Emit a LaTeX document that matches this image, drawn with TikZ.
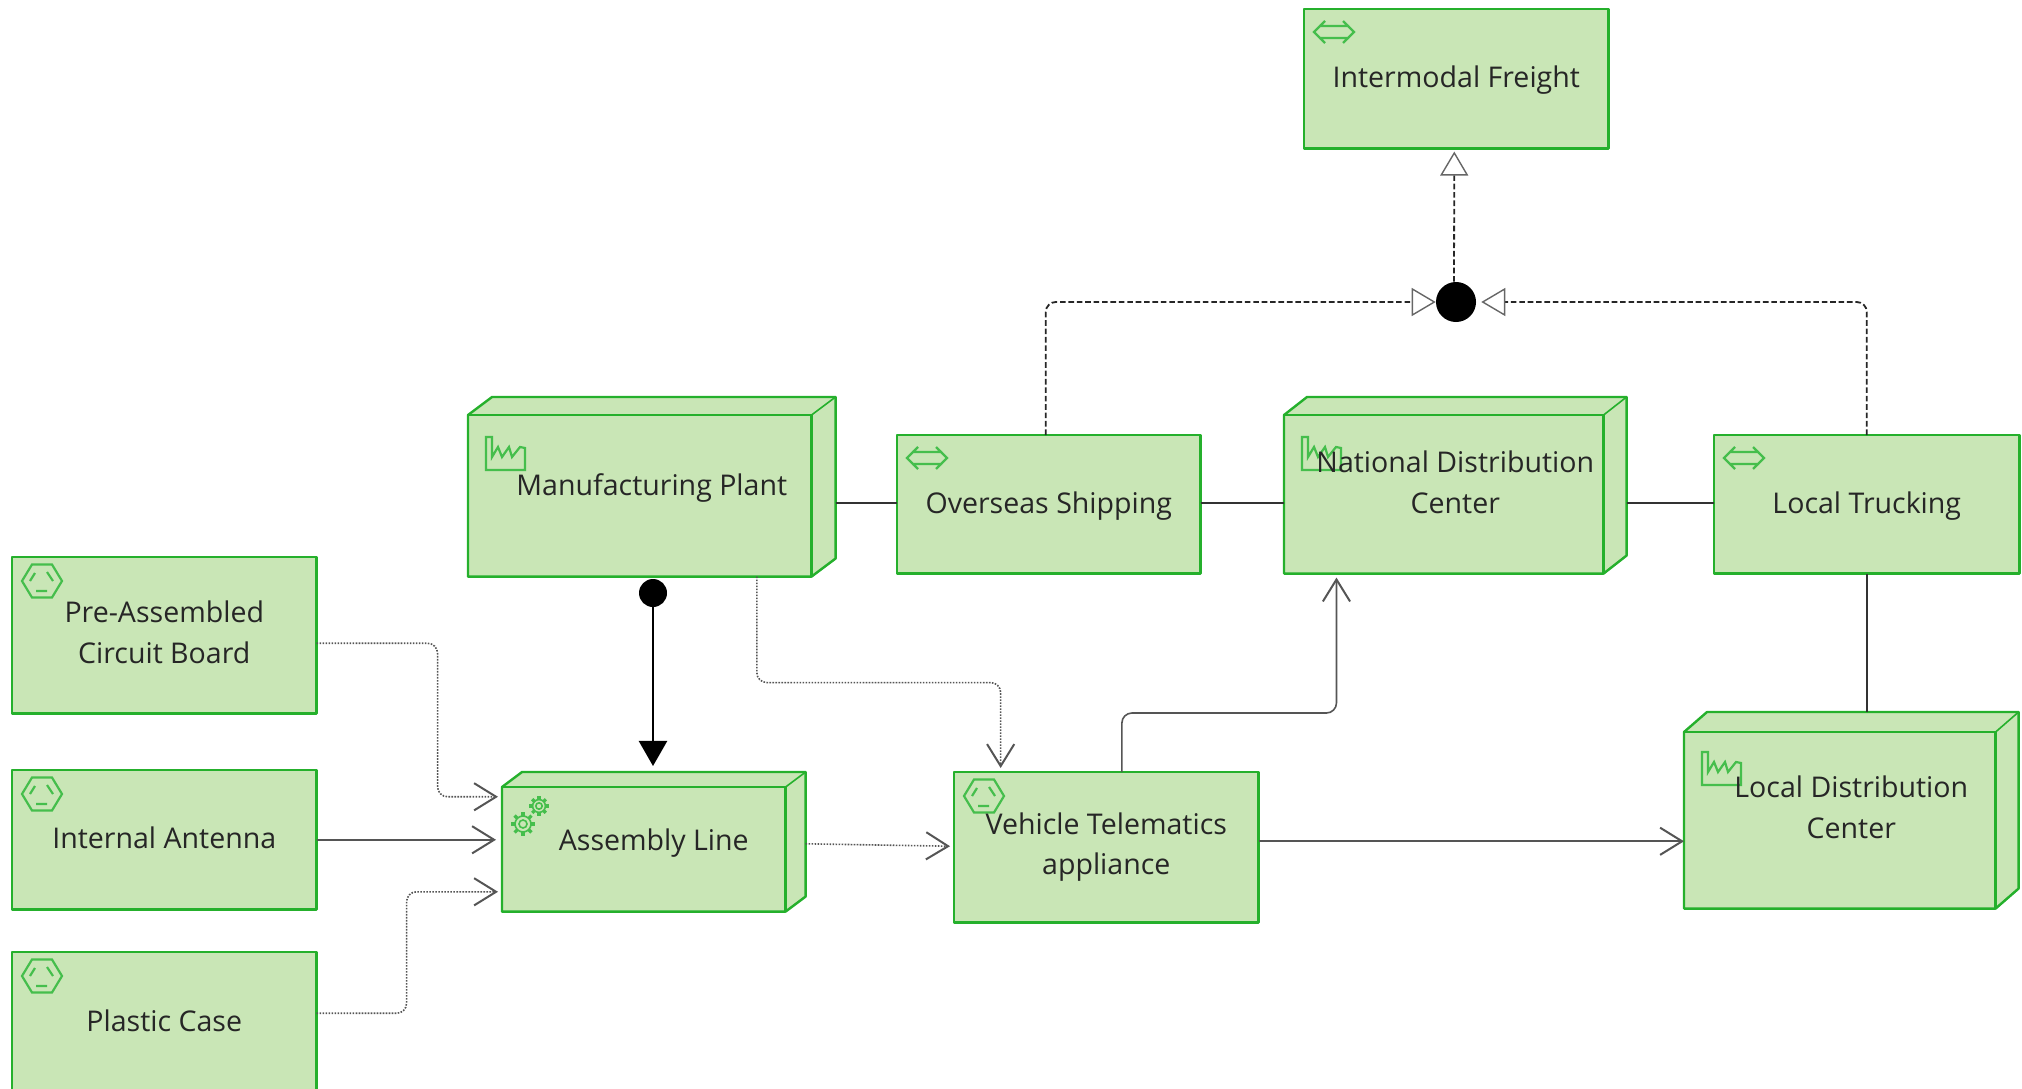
\documentclass[tikz,border=0pt]{standalone}
\usepackage{fontspec}
\setmainfont{Open Sans}
\usetikzlibrary{arrows.meta,backgrounds,calc}
\definecolor{boxline}{HTML}{25B02C}
\definecolor{boxfill}{HTML}{C9E6B6}
\definecolor{symline}{HTML}{45BE4C}
\definecolor{flowgrey}{HTML}{555555}
\newcommand{\textstrut}{\rule[-.16cm]{0pt}{.78cm}}
\begin{document}
\begin{tikzpicture}[x=.025cm,y=-.025cm]
            \tikzset{boxsize/.style 2 args={minimum width=#1*.025cm,minimum height=#2*.025cm},
            boxnode/.style={anchor=north west,inner sep=0pt,align=center,text=black!85,font=\fontsize{20.3}{28.8}\selectfont,execute at begin node=\textstrut,execute at end node=\textstrut},
            boxface/.style={draw=boxline,fill=boxfill,line width=.06cm,line join=round},
            symbol/.style={draw=symline,line width=.055cm},
            assocline/.style={draw=black!80,line width=.05cm},
            flowline/.style={draw=flowgrey,line width=.04cm,rounded corners=.25cm,-{Straight Barb[length=.55cm,width=.68cm,line width=.05cm]}},
            flowdot/.style={flowline,densely dotted},
            realline/.style={draw=black!85,line width=.045cm,dash pattern=on .14cm off .07cm,rounded corners=.25cm,-{Triangle[open,length=.6cm,width=.7cm,line width=.035cm,color=black!60]}},
            netsym/.pic={\draw[symbol] (-9,-11) -- (-20,0) -- (-9,11) (9,-11) -- (20,0) -- (9,11) (-15,-6) -- (15,-6) (-15,6) -- (15,6);},
            plantsym/.pic={\draw[symbol] (0,0) -- (6,0) -- (6,20) -- (12,10) -- (16,20) -- (23,10) -- (26,20) -- (34,10) -- (39,11) -- (39,33) -- (0,33) -- cycle;},
            matsym/.pic={\draw[symbol] (-20,0) -- (-10,-16.5) -- (10,-16.5) -- (20,0) -- (10,16.5) -- (-10,16.5) -- cycle;
                \draw[symbol] (-12,0) -- (-7,-8) (5,-9) -- (11,0) (-6,10) -- (5,10);},
            gearsym/.pic={\draw[symbol,line width=.04cm] (0,0) circle [radius=4];
                \draw[symbol,line width=.04cm] (0,0) circle [radius=8];
                \foreach \a in {0,45,...,315} \draw[symbol,line width=.08cm] (\a:8) -- (\a:12);}}

            \useasboundingbox (0,0) rectangle (2022,1089);

            \node[boxnode,boxsize={304}{139}] (freight) at (1304,9) {Intermodal Freight};
            \node[boxnode,boxsize={367}{179}] (mplant) at (468,397) {Manufacturing Plant};
            \node[boxnode,boxsize={303}{138}] (oship) at (897,435) {Overseas Shipping};
            \node[boxnode,boxsize={342}{176}] (natdc) at (1284,397) {National Distribution\\Center};
            \node[boxnode,boxsize={305}{138}] (ltruck) at (1714,435) {Local Trucking};
            \node[boxnode,boxsize={334}{196}] (locdc) at (1684,712) {Local Distribution\\Center};
            \node[boxnode,boxsize={304}{156}] (pcb) at (12,557) {Pre-Assembled\\Circuit Board};
            \node[boxnode,boxsize={304}{139}] (antenna) at (12,770) {Internal Antenna};
            \node[boxnode,boxsize={304}{140}] (pcase) at (12,952) {Plastic Case};
            \node[boxnode,boxsize={303}{139}] (assembly) at (502,772) {Assembly Line};
            \node[boxnode,boxsize={304}{150}] (vehicle) at (954,772) {Vehicle Telematics\\appliance};

            \begin{scope}[on background layer]
                \foreach \n in {freight,oship,ltruck,pcb,antenna,pcase,vehicle}
                    \draw[boxface] (\n.north west) rectangle (\n.south east);
                \foreach \n/\dx/\dy in {mplant/24/18,natdc/23/18,locdc/23/20,assembly/20/15}{
                    \draw[boxface] ($(\n.north west)+(0,\dy)$) -- ($(\n.north west)+(\dx,0)$) -- (\n.north east) -- ($(\n.south east)+(0,-\dy)$) -- ($(\n.south east)+(-\dx,0)$) -- (\n.south west) -- cycle;
                    \draw[boxface,fill=none] ($(\n.north west)+(0,\dy)$) -- ($(\n.north east)+(-\dx,\dy)$) -- ($(\n.south east)+(-\dx,0)$);
                    \draw[boxface,fill=none,line width=.04cm] ($(\n.north east)+(-\dx,\dy)$) -- (\n.north east);
                    \draw[boxface,fill=none,line width=.04cm] ($(\n.south east)+(-\dx,0)$) -- ($(\n.south east)+(0,-\dy)$);}
                \foreach \n in {freight,oship,ltruck}
                    \pic at ($(\n.north west)+(30,23)$) {netsym};
                \foreach \n in {mplant,natdc,locdc}
                    \pic at ($(\n.north west)+(18,40)$) {plantsym};
                \foreach \n in {pcb,antenna,pcase,vehicle}
                    \pic at ($(\n.north west)+(30,24)$) {matsym};
                \pic[scale=1] at ($(assembly.north west)+(21,52)$) {gearsym};
                \pic[scale=.8] at ($(assembly.north west)+(37,34)$) {gearsym};
            \end{scope}

            \node[circle,fill=black,minimum size=1cm,inner sep=0pt] (junction) at (1456,302) {};
            \node[circle,fill=black,minimum size=.7cm,inner sep=0pt] (plantdot) at (653,593) {};
            \coordinate (assocrow) at ([yshift=-.45cm]natdc.west);

            \draw[realline] ([xshift=-.05cm]junction.north) -- ([xshift=-.05cm,yshift=-.075cm]freight.south);
            \draw[realline] ([xshift=-.075cm]oship.north) |- (junction.west);
            \draw[realline] (ltruck.north) |- ([xshift=.125cm]junction.east);

            \draw[assocline] (mplant.east |- assocrow) -- (oship.west |- assocrow);
            \draw[assocline] (oship.east |- assocrow) -- (natdc.west |- assocrow);
            \draw[assocline] (natdc.east |- assocrow) -- (ltruck.west |- assocrow);
            \draw[assocline] (ltruck.south) -- (ltruck.south |- locdc.north);

            \draw[draw=black,line width=.06cm,-{Triangle[length=.625cm,width=.7cm]},shorten >=.15cm] (plantdot) -- (plantdot |- assembly.north);

            \draw[flowdot] ([yshift=-.2cm]pcb.east) -- ++(121,0) |- ([yshift=1.125cm,xshift=-.1cm]assembly.west);
            \draw[flowline,shorten >=.15cm] (antenna.east) -- (antenna.east -| assembly.west);
            \draw[flowdot] ([yshift=.225cm]pcase.east) -- ++(90,0) |- ([yshift=-1.25cm,xshift=-.1cm]assembly.west);
            \draw[flowdot,shorten >=.1cm] ([yshift=-.05cm]assembly.east) -- ([yshift=.025cm]vehicle.west);
            \draw[flowdot] ([xshift=2.625cm]mplant.south) -- ++(0,106) -| ([xshift=-2.64cm,yshift=.1cm]vehicle.north);
            \draw[flowline] ([xshift=.39cm]vehicle.north) -- ++(0,-59) -| ([xshift=-2.97cm,yshift=-.1cm]natdc.south);
            \draw[flowline] ([yshift=.15cm]vehicle.east) -- ([yshift=.15cm]vehicle.east -| locdc.west);
        \end{tikzpicture}
\end{document}
